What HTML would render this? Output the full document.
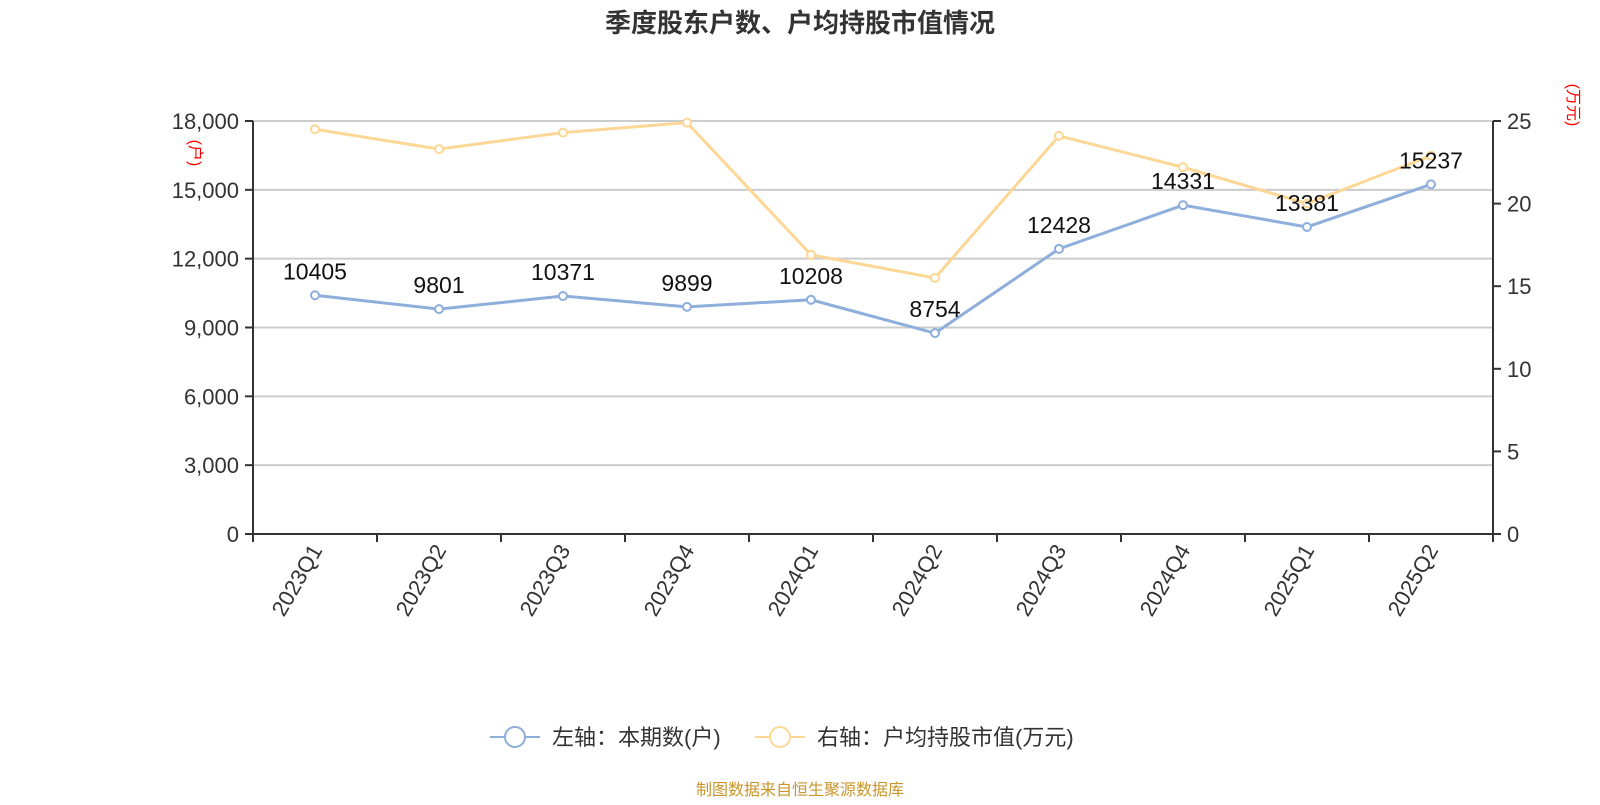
<!DOCTYPE html>
<html><head><meta charset="utf-8"><style>
body{margin:0;background:#fff;}
svg text{font-family:"Liberation Sans","Noto Sans CJK SC",sans-serif;}
</style></head><body>
<svg id="c" width="1600" height="800" xmlns="http://www.w3.org/2000/svg">
<text x="800" y="32" text-anchor="middle" font-size="26" font-weight="bold" fill="#333">季度股东户数、户均持股市值情况</text>
<g id="grid"></g><g id="axes"></g><g id="series"></g>
<text transform="translate(190,153) rotate(90)" font-size="16" fill="red" text-anchor="middle">(户)</text>
<text transform="translate(1568,105) rotate(90)" font-size="16" fill="red" text-anchor="middle">(万元)</text>
<g>
<g><line x1="490" y1="737" x2="540" y2="737" stroke="#8eaedb" stroke-width="2"/><circle cx="515" cy="737" r="10" fill="#fff" stroke="#8eaedb" stroke-width="2"/><text x="552" y="745" font-size="22" fill="#333">左轴：本期数(户)</text></g>
<g><line x1="755" y1="737" x2="805" y2="737" stroke="#fdd795" stroke-width="2"/><circle cx="780" cy="737" r="10" fill="#fff" stroke="#fdd795" stroke-width="2"/><text x="817" y="745" font-size="22" fill="#333">右轴：户均持股市值(万元)</text></g>
</g>
<text x="800" y="795" text-anchor="middle" font-size="16" fill="#c8962c">制图数据来自恒生聚源数据库</text>
</svg>
<script>
const categories=["2023Q1","2023Q2","2023Q3","2023Q4","2024Q1","2024Q2","2024Q3","2024Q4","2025Q1","2025Q2"];
const holders=[10405,9801,10371,9899,10208,8754,12428,14331,13381,15237];
const avgValue=[24.5,23.3,24.3,24.9,16.9,15.5,24.1,22.2,20.0,22.9];
const leftTicks=[0,3000,6000,9000,12000,15000,18000];
const rightTicks=[0,5,10,15,20,25];
const L=253,R=1493,T=121,B=534,NS="http://www.w3.org/2000/svg";
const bw=(R-L)/categories.length;
const xs=i=>L+bw*(i+0.5);
const yl=v=>B-(v/18000)*(B-T);
const yr=v=>B-(v/25)*(B-T);
function mk(t,a,p){const e=document.createElementNS(NS,t);for(const k in a)e.setAttribute(k,a[k]);p.appendChild(e);return e;}
const g=document.getElementById('grid'),ax=document.getElementById('axes'),s=document.getElementById('series');
leftTicks.forEach(v=>{const y=yl(v);
 if(v>0){const l=mk('line',{x1:L,x2:R,y1:y,y2:y,stroke:'#ccc','stroke-width':2},g);
 
 }
 mk('line',{x1:L-8,x2:L,y1:y,y2:y,stroke:'#333','stroke-width':2},ax);
 const t=mk('text',{x:L-14,y:y+8,'text-anchor':'end','font-size':22,fill:'#333'},ax);t.textContent=v.toLocaleString('en-US');
 
 });
rightTicks.forEach(v=>{const y=yr(v);
 mk('line',{x1:R,x2:R+8,y1:y,y2:y,stroke:'#333','stroke-width':2},ax);
 const t=mk('text',{x:R+14,y:y+8,'font-size':22,fill:'#333'},ax);t.textContent=v;
 
 });
mk('line',{x1:L,x2:L,y1:T,y2:B,stroke:'#333','stroke-width':2},ax);
mk('line',{x1:R,x2:R,y1:T,y2:B+8,stroke:'#333','stroke-width':2},ax);
mk('line',{x1:L,x2:R,y1:B,y2:B,stroke:'#333','stroke-width':2},ax);
for(let i=0;i<=categories.length;i++)mk('line',{x1:L+bw*i,x2:L+bw*i,y1:B,y2:B+8,stroke:'#333','stroke-width':2},ax);
categories.forEach((c,i)=>{const x=xs(i)+8,y=B+16;
 const t=mk('text',{x:x,y:y,'text-anchor':'end','font-size':22,fill:'#333',transform:`rotate(-60 ${x} ${y})`},ax);t.textContent=c;
 
 });
function line(vals,yf,col,name){
 const p=mk('polyline',{points:vals.map((v,i)=>xs(i)+','+yf(v)).join(' '),fill:'none',stroke:col,'stroke-width':3},s);
 
 
 vals.forEach((v,i)=>{const c=mk('circle',{cx:xs(i),cy:yf(v),r:4,fill:'#fff',stroke:col,'stroke-width':2},s);
 
 });
}
line(avgValue,yr,'#fdd795','avg-value');
line(holders,yl,'#8eaedb','holders');
holders.forEach((v,i)=>{const t=mk('text',{x:xs(i),y:yl(v)-16,'text-anchor':'middle','font-size':23,fill:'#111'},s);t.textContent=v;
 
 });
</script>
</body></html>
